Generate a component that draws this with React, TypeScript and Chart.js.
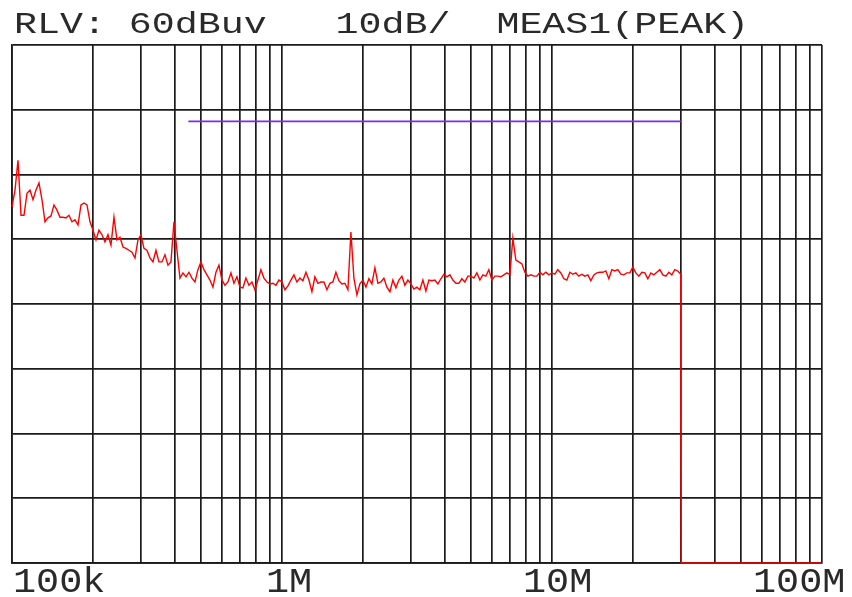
import React, { useEffect, useRef } from "react";
import { Chart, registerables } from "chart.js";

Chart.register(...registerables);

// Sweep definition (log-spaced measurement points)
const SWEEP_START_HZ = 100e3;
const SWEEP_STOP_HZ = 30e6;

const levels: number[] = [
  35.0, 37.6, 42.2, 33.7, 33.7, 37.1, 37.6, 36.1, 37.6, 38.7,
  36.1, 32.7, 33.3, 33.6, 35.3, 34.5, 33.4, 33.4, 33.3, 33.7,
  32.7, 33.0, 32.2, 35.3, 35.6, 35.3, 32.7, 31.4, 29.9, 31.4,
  30.7, 29.6, 30.7, 29.1, 33.4, 29.9, 30.3, 28.8, 28.6, 28.3,
  28.0, 27.1, 29.9, 30.7, 28.6, 28.3, 27.1, 26.5, 28.3, 26.5,
  26.5, 27.6, 26.0, 26.5, 32.7, 28.3, 24.0, 24.8, 24.2, 24.9,
  24.0, 23.4, 25.3, 26.5, 25.3, 24.5, 23.7, 22.6, 24.9, 26.0,
  23.7, 22.9, 23.4, 24.8, 23.2, 24.2, 22.6, 22.5, 24.0, 22.9,
  23.4, 22.2, 23.7, 25.3, 24.0, 23.4, 23.1, 23.2, 22.9, 23.7,
  23.4, 22.2, 22.8, 23.7, 24.5, 23.4, 24.0, 23.6, 24.9, 23.7,
  21.9, 24.2, 23.2, 23.4, 23.4, 22.2, 23.2, 23.4, 24.9, 23.6,
  23.1, 23.2, 22.2, 31.1, 24.0, 21.4, 23.1, 23.7, 22.6, 23.9,
  23.1, 25.6, 23.2, 23.4, 24.0, 22.6, 21.9, 23.7, 22.5, 23.7,
  24.3, 22.9, 23.7, 23.1, 22.3, 22.6, 22.2, 23.7, 22.0, 23.7,
  23.6, 23.7, 23.1, 23.9, 24.6, 24.2, 24.5, 23.7, 23.2, 23.2,
  23.9, 23.4, 24.3, 24.3, 24.0, 24.8, 23.7, 24.5, 24.3, 25.3,
  23.7, 24.3, 24.3, 24.2, 24.5, 24.8, 24.5, 30.2, 26.8, 26.5,
  26.2, 24.9, 24.3, 24.5, 24.3, 24.3, 24.9, 24.5, 24.9, 24.5,
  24.8, 24.6, 25.3, 24.8, 23.9, 23.7, 24.9, 24.6, 24.8, 24.3,
  24.6, 24.3, 24.5, 23.6, 24.5, 24.8, 24.9, 24.9, 25.1, 23.9,
  25.3, 25.1, 25.3, 24.6, 24.5, 24.8, 24.8, 25.7, 24.8, 24.3,
  24.9, 24.8, 23.9, 24.8, 24.5, 24.9, 25.3, 24.5, 24.3, 24.9,
  24.5, 25.3, 25.1, 24.6,
];

// End of sweep: trace falls to the bottom and stays there
const tailFreqs = [30.0e6, 30.1e6, 100e6];
const tailLevels = [2.4, -20, -20];

// Limit line
const limitFreqs = [450e3, 30e6];
const limitLevels = [48.2, 48.2];

// Axes
const yMin = -20;
const yMax = 60;
const yStep = 10;
const xMin = 100e3;
const xMax = 100e6;
const gridDecades = [1e5, 1e6, 1e7];
const gridMultipliers = [1, 2, 3, 4, 5, 6, 7, 8, 9];
const xTickValues = [1e5, 1e6, 1e7, 1e8];
const xTickLabels = ["100k", "1M", "10M", "100M"];
const headerText = "RLV: 60dBuv   10dB/  MEAS1(PEAK)";

const FONT = '"Liberation Mono", "DejaVu Sans Mono", monospace';

export default function App() {
  const ref = useRef<HTMLCanvasElement | null>(null);

  useEffect(() => {
    const canvas = ref.current;
    if (!canvas) return;

    const n = levels.length;
    const l0 = Math.log10(SWEEP_START_HZ);
    const l1 = Math.log10(SWEEP_STOP_HZ);
    const trace = levels.map((v, i) => ({
      x: Math.pow(10, l0 + ((l1 - l0) * i) / (n - 1)),
      y: v,
    }));
    tailFreqs.forEach((f, i) => trace.push({ x: f, y: tailLevels[i] }));
    const limit = limitFreqs.map((f, i) => ({ x: f, y: limitLevels[i] }));

    const gridValues: number[] = [];
    gridDecades.forEach((d) => gridMultipliers.forEach((m) => gridValues.push(d * m)));
    gridValues.push(xMax);

    const labelDx = [1, -16, -29, -69];

    const textPlugin = {
      id: "instrText",
      afterDraw(chart: any) {
        const ctx = chart.ctx as CanvasRenderingContext2D;
        const xs = chart.scales.x;
        ctx.save();
        ctx.fillStyle = "#2a2a2a";
        ctx.textBaseline = "alphabetic";
        ctx.textAlign = "left";
        // header
        ctx.save();
        ctx.translate(14, 33);
        ctx.scale(1.32, 1);
        ctx.font = `29px ${FONT}`;
        ctx.fillText(headerText, 0, 0);
        ctx.restore();
        // frequency labels
        xTickValues.forEach((v, i) => {
          const px = xs.getPixelForValue(v) + labelDx[i];
          ctx.save();
          ctx.translate(px, 592);
          ctx.scale(1.1, 1);
          ctx.font = `35px ${FONT}`;
          ctx.fillText(xTickLabels[i], 0, 0);
          ctx.restore();
        });
        ctx.restore();
      },
    };

    const chart = new Chart(canvas, {
      type: "line",
      data: {
        datasets: [
          {
            data: trace,
            borderColor: "#ff0000",
            borderWidth: 1.4,
            pointRadius: 0,
            tension: 0,
            clip: false as any,
          },
          {
            data: limit,
            borderColor: "#7a2ee6",
            borderWidth: 1.6,
            pointRadius: 0,
            tension: 0,
          },
        ],
      },
      options: {
        animation: false,
        responsive: false,
        maintainAspectRatio: false,
        parsing: false as any,
        layout: { padding: { left: 12, right: 30, top: 45, bottom: 34 } },
        plugins: {
          legend: { display: false },
          title: { display: false },
          tooltip: { enabled: false },
        },
        scales: {
          x: {
            type: "logarithmic",
            min: xMin,
            max: xMax,
            afterBuildTicks: (scale: any) => {
              scale.ticks = gridValues.map((v) => ({ value: v }));
            },
            ticks: { display: false },
            grid: { color: "#1a1a1a", lineWidth: 1.7, drawTicks: false },
            border: { color: "#1a1a1a", width: 1.7 },
          },
          y: {
            type: "linear",
            min: yMin,
            max: yMax,
            ticks: { display: false, stepSize: yStep },
            grid: { color: "#1a1a1a", lineWidth: 1.7, drawTicks: false },
            border: { color: "#1a1a1a", width: 1.7 },
          },
        },
      },
      plugins: [textPlugin],
    });

    return () => chart.destroy();
  }, []);

  return (
    <div style={{ position: "fixed", left: 0, top: 0, width: 852, height: 597, background: "#fff" }}>
      <canvas ref={ref} width={852} height={597} style={{ width: 852, height: 597, display: "block" }} />
    </div>
  );
}
